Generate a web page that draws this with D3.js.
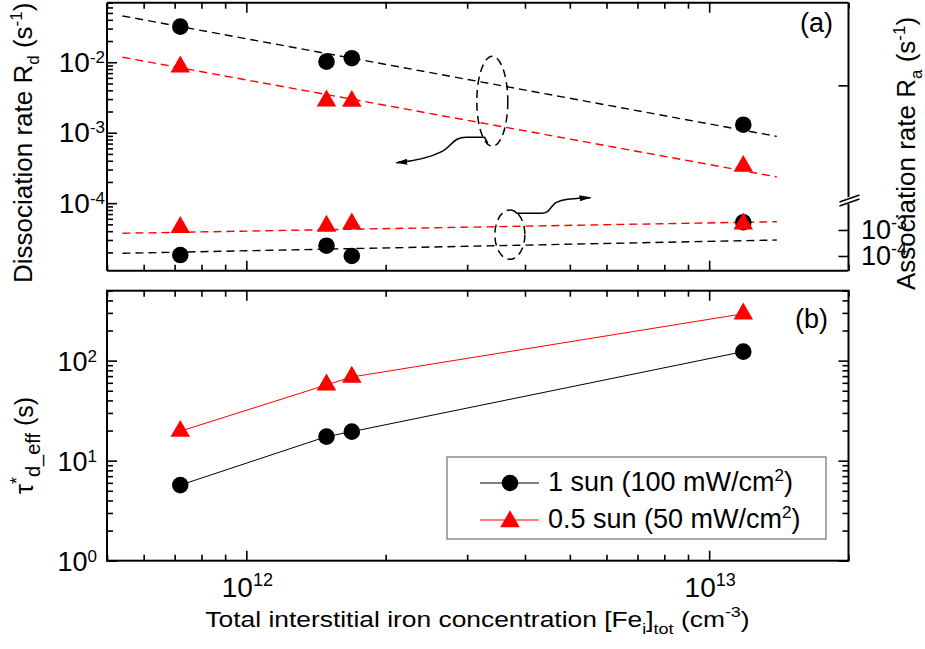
<!DOCTYPE html>
<html>
<head>
<meta charset="utf-8">
<script src="https://cdn.jsdelivr.net/npm/d3@7"></script>
<style>
  body { margin: 0; background: #fff; }
  svg { display: block; font-family: "Liberation Sans", Arial, sans-serif; }
</style>
</head>
<body>
<div id="root"></div>
<script>
// ---- data ----
const ironConc = [7.2e11, 1.49e12, 1.69e12, 1.185e13];
const rdOneSun = [0.032, 0.0102, 0.0114, 1.3e-3];
const rdHalfSun = [8.6e-3, 2.83e-3, 2.8e-3, 3.35e-4];
const raOneSun = [1.09e-4, 2.49e-4, 1.0e-4, 1.98e-3];
const raHalfSun = [1.27e-3, 1.41e-3, 1.73e-3, 1.73e-3];
const tauOneSun = [5.7, 17.4, 19.5, 123];
const tauHalfSun = [19.7, 57.2, 68.6, 294];

// dashed power-law fits, end points
const fitConc = [5.4e11, 1.4e13];
const rdFitOneSun = [0.0454, 8.87e-4];
const rdFitHalfSun = [0.01178, 2.36e-4];
const raFitOneSun = [1.27e-4, 4.12e-4];
const raFitHalfSun = [7.46e-4, 2.08e-3];

const legendLabels = ['1 sun (100 mW/cm', '0.5 sun (50 mW/cm'];
const xLabelExps = ['12', '13'];
const rdLabelExps = ['-2', '-3', '-4'];
const raLabelExps = ['-3', '-4'];
const tauLabelExps = ['0', '1', '2'];

// annotation anchors (ellipses) in data units
const ellipseConc = [3.4e12, 3.71e12];
const ellipseRd = 2.79e-3;
const ellipseRa = 6.6e-4;

const width = 925;
const height = 649;
const plotLeft = 107;
const plotRight = 848.5;
const topPanel = { top: 2.7, bottom: 270.7 };
const botPanel = { top: 290.7, bottom: 560.7 };
const breakY = 202;
const majorLen = 10;
const minorLen = 6;

const x = d3.scaleLog().domain([5e11, 2e13]).range([plotLeft, plotRight]);
const yRd = d3.scaleLog().domain([1.1e-5, 0.07]).range([topPanel.bottom, topPanel.top]);
const yRa = d3.scaleLog().domain([2.72e-5, 0.0119]).range([topPanel.bottom, breakY]);
const yTau = d3.scaleLog().domain([1, 500]).range([botPanel.bottom, botPanel.top]);

const isMajor = v => Math.abs(Math.log10(v) - Math.round(Math.log10(v))) < 1e-6;
const majorOf = s => s.ticks().filter(isMajor);
const minorOf = s => s.ticks().filter(v => !isMajor(v));

const svg = d3.select('#root').append('svg')
  .attr('width', width)
  .attr('height', height);

const defs = svg.append('defs');
defs.append('marker')
  .attr('id', 'arrow')
  .attr('viewBox', '0 0 12 6')
  .attr('refX', 11)
  .attr('refY', 3)
  .attr('markerWidth', 12)
  .attr('markerHeight', 6)
  .attr('markerUnits', 'userSpaceOnUse')
  .attr('orient', 'auto')
  .append('path')
  .attr('d', 'M0,0 L12,3 L0,6 Z')
  .attr('fill', '#000');

function drawTicks(axisGen, values, size, tx, ty) {
  const a = svg.append('g')
    .attr('transform', `translate(${tx},${ty})`)
    .call(axisGen.tickValues(values).tickSize(size).tickFormat(''));
  a.select('.domain').remove();
  a.selectAll('line').attr('stroke', '#000').attr('stroke-width', 1.6);
}

function bothTicks(makeAxis, scale, tx, ty) {
  drawTicks(makeAxis(scale), minorOf(scale), minorLen, tx, ty);
  drawTicks(makeAxis(scale), majorOf(scale), majorLen, tx, ty);
}

const circleSym = d3.symbol().type(d3.symbolCircle).size(216);
const triSym = d3.symbol().type(d3.symbolTriangle).size(165);

// ---------- panel (a) ----------
const fitLine = yScale => d3.line().x(d => x(d[0])).y(d => yScale(d[1]));

const fits = [
  { vals: rdFitOneSun, scale: yRd, color: '#000' },
  { vals: rdFitHalfSun, scale: yRd, color: '#f00' },
  { vals: raFitHalfSun, scale: yRa, color: '#f00' },
  { vals: raFitOneSun, scale: yRa, color: '#000' },
];
fits.forEach(f => {
  svg.append('path')
    .attr('d', fitLine(f.scale)(d3.zip(fitConc, f.vals)))
    .attr('fill', 'none')
    .attr('stroke', f.color)
    .attr('stroke-width', 1.4)
    .attr('stroke-dasharray', '8,5');
});

// annotation ellipses with curved arrows
const e1x = x(ellipseConc[0]);
const e1y = yRd(ellipseRd);
const e2x = x(ellipseConc[1]);
const e2y = yRa(ellipseRa);
const annoG = svg.append('g')
  .attr('fill', 'none')
  .attr('stroke', '#000')
  .attr('stroke-width', 1.5);
annoG.append('ellipse')
  .attr('cx', e1x).attr('cy', e1y)
  .attr('rx', 15.5).attr('ry', 45)
  .attr('stroke-dasharray', '8,5');
annoG.append('path')
  .attr('transform', `translate(${e1x},${e1y})`)
  .attr('d', 'M-4.5,42 L-7.8,36 L-26,36 C-40,36 -40,45 -50,50 C-62,56 -80,60 -96,61.4')
  .attr('marker-end', 'url(#arrow)');
annoG.append('ellipse')
  .attr('cx', e2x).attr('cy', e2y)
  .attr('rx', 15).attr('ry', 24.7)
  .attr('stroke-dasharray', '8,5');
annoG.append('path')
  .attr('transform', `translate(${e2x},${e2y})`)
  .attr('d', 'M4,-24 L7,-21.4 L31.6,-21.4 C40,-21.4 40,-28 46,-32 C54,-36 64,-36 80.6,-37')
  .attr('marker-end', 'url(#arrow)');

function drawPoints(vals, scale, sym, color) {
  svg.append('g')
    .selectAll('path')
    .data(d3.zip(ironConc, vals))
    .join('path')
    .attr('transform', d => `translate(${x(d[0])},${scale(d[1])})`)
    .attr('d', sym)
    .attr('fill', color);
}
drawPoints(rdOneSun, yRd, circleSym, '#000');
drawPoints(rdHalfSun, yRd, triSym, '#f00');
drawPoints(raOneSun, yRa, circleSym, '#000');
drawPoints(raHalfSun, yRa, triSym, '#f00');

// frame of panel (a), right side broken
const frameA = svg.append('g').attr('stroke', '#000').attr('stroke-width', 2);
frameA.append('line').attr('x1', plotLeft).attr('x2', plotLeft).attr('y1', topPanel.top).attr('y2', topPanel.bottom);
frameA.append('line').attr('x1', plotLeft).attr('x2', plotRight).attr('y1', topPanel.top).attr('y2', topPanel.top);
frameA.append('line').attr('x1', plotLeft).attr('x2', plotRight).attr('y1', topPanel.bottom).attr('y2', topPanel.bottom);
frameA.append('line').attr('x1', plotRight).attr('x2', plotRight).attr('y1', topPanel.top).attr('y2', breakY - 5);
frameA.append('line').attr('x1', plotRight).attr('x2', plotRight).attr('y1', breakY + 2).attr('y2', topPanel.bottom);
// break marks
const brk = svg.append('g').attr('stroke', '#000').attr('stroke-width', 1.6);
brk.append('line').attr('x1', plotRight - 9).attr('y1', breakY + 4).attr('x2', plotRight + 11).attr('y2', breakY - 3);
brk.append('line').attr('x1', plotRight - 9).attr('y1', breakY).attr('x2', plotRight + 11).attr('y2', breakY - 7);

bothTicks(d3.axisRight, yRd, plotLeft, 0);
bothTicks(d3.axisTop, x, 0, topPanel.bottom);
bothTicks(d3.axisBottom, x, 0, topPanel.top);
drawTicks(d3.axisLeft(yRd), [4.7e-3], majorLen, plotRight, 0);
drawTicks(d3.axisLeft(yRa), [1e-4, 1e-3], majorLen, plotRight, 0);

// ---------- panel (b) ----------
const tauLine = d3.line().x(d => x(d[0])).y(d => yTau(d[1]));
[[tauOneSun, '#000'], [tauHalfSun, '#f00']].forEach(([vals, color]) => {
  svg.append('path')
    .attr('d', tauLine(d3.zip(ironConc, vals)))
    .attr('fill', 'none')
    .attr('stroke', color)
    .attr('stroke-width', 1);
});
drawPoints(tauOneSun, yTau, circleSym, '#000');
drawPoints(tauHalfSun, yTau, triSym, '#f00');

svg.append('rect')
  .attr('x', plotLeft).attr('y', botPanel.top)
  .attr('width', plotRight - plotLeft)
  .attr('height', botPanel.bottom - botPanel.top)
  .attr('fill', 'none').attr('stroke', '#000').attr('stroke-width', 2);

bothTicks(d3.axisRight, yTau, plotLeft, 0);
bothTicks(d3.axisLeft, yTau, plotRight, 0);
bothTicks(d3.axisTop, x, 0, botPanel.bottom);
bothTicks(d3.axisBottom, x, 0, botPanel.top);

// ---------- text ----------
function powLabel(tx, ty, anchor, exp, size, supSize, supDy) {
  const t = svg.append('text')
    .attr('x', tx).attr('y', ty)
    .attr('text-anchor', anchor)
    .attr('font-size', size);
  t.append('tspan').text('10');
  t.append('tspan').attr('font-size', supSize).attr('dy', supDy).text(exp);
  return t;
}

majorOf(yRd).filter(v => v > 5e-5).sort(d3.descending).forEach((v, i) => {
  powLabel(105, yRd(v) + 9.5, 'end', rdLabelExps[i], 28, 17, -9);
});
majorOf(yTau).forEach((v, i) => {
  powLabel(97, yTau(v) + 10, 'end', tauLabelExps[i], 27, 17, -9);
});
majorOf(x).forEach((v, i) => {
  powLabel(x(v) + 1, 596.7, 'middle', xLabelExps[i], 28, 18, -11);
});
[1e-3, 1e-4].forEach((v, i) => {
  powLabel(861, yRa(v) + 9.5, 'start', raLabelExps[i], 27, 18, -10);
});

function richText(g, parts) {
  // parts: [text, kind, fontSize] with kind '' | 'sub' | 'sup'
  let shift = 0;
  parts.forEach(([s, kind, fs]) => {
    const target = kind === 'sub' ? 7 : kind === 'sup' ? -10 : 0;
    const ts = g.append('tspan').attr('dy', target - shift).text(s);
    if (kind) ts.attr('font-size', fs || 17);
    shift = target;
  });
}

const leftTitle = svg.append('text')
  .attr('transform', 'translate(31.7,283) rotate(-90)')
  .attr('font-size', 26);
richText(leftTitle, [['Dissociation rate R', ''], ['d', 'sub'], [' (s', ''], ['-1', 'sup'], [')', '']]);

const rightTitle = svg.append('text')
  .attr('transform', 'translate(915,290) rotate(-90)')
  .attr('font-size', 26);
richText(rightTitle, [['Association rate R', ''], ['a', 'sub'], [' (s', ''], ['-1', 'sup'], [')', '']]);

const tauTitle = svg.append('text')
  .attr('transform', 'translate(33,494) rotate(-90)')
  .attr('font-size', 25);
richText(tauTitle, [['τ', ''], ['*', 'sup', 18], ['d_eff', 'sub', 20], [' (s)', '']]);

const xTitle = svg.append('text')
  .attr('transform', 'translate(477.5,626.7) scale(1.2,1)')
  .attr('text-anchor', 'middle')
  .attr('font-size', 22);
richText(xTitle, [['Total interstitial iron concentration [Fe', ''], ['i', 'sub', 15], [']', ''], ['tot', 'sub', 15], [' (cm', ''], ['-3', 'sup', 15], [')', '']]);

svg.append('text').attr('x', 800).attr('y', 32).attr('font-size', 27).text('(a)');
svg.append('text').attr('x', 795).attr('y', 327.5).attr('font-size', 27).text('(b)');

// ---------- legend ----------
const legend = svg.append('g');
legend.append('rect')
  .attr('x', 447).attr('y', 457)
  .attr('width', 379).attr('height', 82)
  .attr('fill', '#fff').attr('stroke', '#555').attr('stroke-width', 1);
const legendRows = [
  { label: legendLabels[0], color: '#000', sym: circleSym, lineY: 483, symY: 483, textY: 491 },
  { label: legendLabels[1], color: '#f00', sym: triSym, lineY: 520, symY: 521.6, textY: 528 },
];
legendRows.forEach(r => {
  legend.append('line')
    .attr('x1', 480).attr('x2', 539)
    .attr('y1', r.lineY).attr('y2', r.lineY)
    .attr('stroke', r.color).attr('stroke-width', 1);
  legend.append('path')
    .attr('transform', `translate(510,${r.symY})`)
    .attr('d', r.sym)
    .attr('fill', r.color);
  const t = legend.append('text')
    .attr('x', 548).attr('y', r.textY)
    .attr('font-size', 27);
  richText(t, [[r.label, ''], ['2', 'sup', 17], [')', '']]);
});
</script>
</body>
</html>
